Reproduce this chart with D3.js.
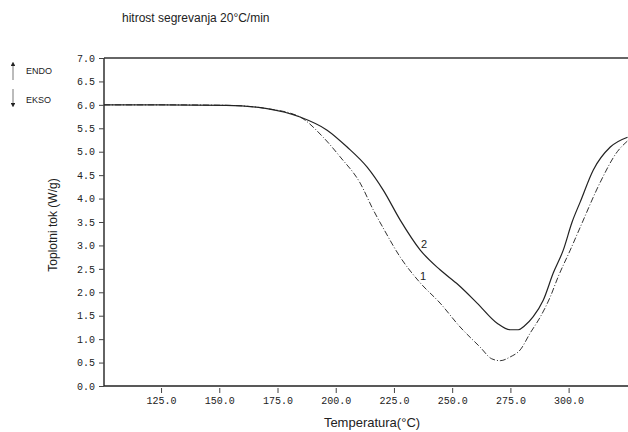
<!DOCTYPE html>
<html>
<head>
<meta charset="utf-8">
<script src="https://cdn.jsdelivr.net/npm/d3@7"></script>
<style>
  body { margin: 0; background: #fff; }
  svg { display: block; }
</style>
</head>
<body>
<div class="container"></div>
<script>
const xTicks = [125, 150, 175, 200, 225, 250, 275, 300];
const yTicks = [0, 0.5, 1, 1.5, 2, 2.5, 3, 3.5, 4, 4.5, 5, 5.5, 6, 6.5, 7];

// curve 2 (solid)
const temp2 = [100.5, 125, 153, 170.5, 184.7, 196.3, 204.9, 213.5, 220.4, 227.7, 236.3, 244.8, 252.6, 260.7, 269.3, 274.9, 278.4, 281, 284.8, 289.1, 293.4, 297.7, 301.5, 305, 310.6, 317.9, 325.3];
const flow2 = [6.0, 6.0, 5.99, 5.92, 5.74, 5.46, 5.1, 4.67, 4.18, 3.54, 2.9, 2.48, 2.16, 1.77, 1.34, 1.2, 1.2, 1.28, 1.48, 1.83, 2.41, 2.9, 3.5, 3.93, 4.61, 5.1, 5.31];

// curve 1 (dash-dot)
const temp1 = [100.5, 125, 153, 170.5, 184.7, 194.6, 201.9, 210.5, 216.1, 220.4, 227.7, 236.3, 244.8, 253.4, 262, 267, 270.6, 274.9, 279.2, 283.5, 287.8, 292.1, 295.5, 300.7, 305, 313.6, 320.9, 325.3];
const flow1 = [6.0, 6.0, 5.99, 5.92, 5.74, 5.31, 4.89, 4.33, 3.76, 3.37, 2.75, 2.2, 1.77, 1.26, 0.83, 0.58, 0.54, 0.62, 0.77, 1.13, 1.47, 1.9, 2.33, 2.9, 3.39, 4.35, 5.0, 5.23];

const curveLabels = ['2', '1'];
const labelTemps = [236.6, 236.2];
const labelFlows = [2.95, 2.27];

const render = () => {
  const width = 628;
  const height = 432;
  const left = 104;
  const top = 58;
  const bottom = 386;

  const svg = d3.select('.container').append('svg').attr('width', width).attr('height', height);

  const xScale = d3.scaleLinear().domain([100.5, 325.5]).range([left, width]);
  const yScale = d3.scaleLinear().domain([0, 7]).range([bottom, top]);

  const tickFont = g =>
    g.selectAll('text').attr('font-family', '"Liberation Mono", "DejaVu Sans Mono", monospace').attr('font-size', 10).attr('fill', '#222');

  const bottomAxisGroup = svg.append('g').attr('transform', `translate(0,${bottom})`);
  bottomAxisGroup.call(d3.axisBottom(xScale).tickValues(xTicks).tickSize(7).tickPadding(4).tickFormat(d3.format('.1f')));
  bottomAxisGroup.call(tickFont);
  bottomAxisGroup.select('.domain').attr('stroke', '#222').attr('stroke-width', 1.4).attr('d', `M${left},0H${width}`);
  bottomAxisGroup.selectAll('.tick line').attr('stroke', '#444').attr('y1', 2);

  const leftAxisGroup = svg.append('g').attr('transform', `translate(${left},0)`);
  leftAxisGroup.call(d3.axisLeft(yScale).tickValues(yTicks).tickSize(5).tickPadding(4).tickFormat(d3.format('.1f')));
  leftAxisGroup.call(tickFont);
  leftAxisGroup.select('.domain').attr('stroke', '#222').attr('stroke-width', 1.4).attr('d', `M0,${top}V${bottom}`);
  leftAxisGroup.selectAll('.tick line').attr('stroke', '#444');

  // top frame line
  svg
    .append('line')
    .attr('x1', left)
    .attr('x2', width)
    .attr('y1', yScale(7))
    .attr('y2', yScale(7))
    .attr('stroke', '#333')
    .attr('stroke-width', 1.4);

  const line = d3
    .line()
    .x(d => xScale(d[0]))
    .y(d => yScale(d[1]))
    .curve(d3.curveMonotoneX);

  const series1 = temp1.map((t, i) => [t, flow1[i]]);
  const series2 = temp2.map((t, i) => [t, flow2[i]]);

  svg
    .append('path')
    .attr('d', line(series1))
    .attr('fill', 'none')
    .attr('stroke', '#333')
    .attr('stroke-width', 1)
    .attr('stroke-dasharray', '6,2,1,2');

  svg
    .append('path')
    .attr('d', line(series2))
    .attr('fill', 'none')
    .attr('stroke', '#222')
    .attr('stroke-width', 1.2);

  svg
    .selectAll('.curve-label')
    .data(curveLabels)
    .enter()
    .append('text')
    .attr('class', 'curve-label')
    .attr('x', (d, i) => xScale(labelTemps[i]))
    .attr('y', (d, i) => yScale(labelFlows[i]))
    .attr('font-family', '"Liberation Sans", Arial, sans-serif')
    .attr('font-size', 11)
    .attr('fill', '#222')
    .text(d => d);

  // title
  svg
    .append('text')
    .text('hitrost segrevanja 20°C/min')
    .attr('x', 122)
    .attr('y', 22)
    .attr('font-family', '"Liberation Sans", Arial, sans-serif')
    .attr('font-size', 12)
    .attr('fill', '#222');

  // axis titles
  svg
    .append('text')
    .text('Temperatura(°C)')
    .attr('x', 372)
    .attr('y', 427)
    .attr('text-anchor', 'middle')
    .attr('font-family', '"Liberation Sans", Arial, sans-serif')
    .attr('font-size', 13)
    .attr('fill', '#222');

  svg
    .append('text')
    .text('Toplotni tok (W/g)')
    .attr('transform', 'translate(57,225) rotate(-90)')
    .attr('text-anchor', 'middle')
    .attr('font-family', '"Liberation Sans", Arial, sans-serif')
    .attr('font-size', 12)
    .attr('fill', '#222');

  // ENDO / EKSO arrows
  const defs = svg.append('defs');
  defs
    .append('marker')
    .attr('id', 'head')
    .attr('viewBox', '0 0 6 6')
    .attr('refX', 3)
    .attr('refY', 3)
    .attr('markerWidth', 6)
    .attr('markerHeight', 6)
    .attr('orient', 'auto')
    .append('path')
    .attr('d', 'M0,0L6,3L0,6Z')
    .attr('fill', '#222');

  svg
    .append('line')
    .attr('x1', 13)
    .attr('x2', 13)
    .attr('y1', 80)
    .attr('y2', 64)
    .attr('stroke', '#555')
    .attr('stroke-width', 0.8)
    .attr('marker-end', 'url(#head)');

  svg
    .append('line')
    .attr('x1', 13)
    .attr('x2', 13)
    .attr('y1', 89)
    .attr('y2', 105)
    .attr('stroke', '#555')
    .attr('stroke-width', 0.8)
    .attr('marker-end', 'url(#head)');

  svg
    .append('text')
    .text('ENDO')
    .attr('x', 26)
    .attr('y', 74)
    .attr('font-family', '"Liberation Sans", Arial, sans-serif')
    .attr('font-size', 9)
    .attr('fill', '#222');

  svg
    .append('text')
    .text('EKSO')
    .attr('x', 26)
    .attr('y', 103)
    .attr('font-family', '"Liberation Sans", Arial, sans-serif')
    .attr('font-size', 9)
    .attr('fill', '#222');
};

render();
</script>
</body>
</html>
